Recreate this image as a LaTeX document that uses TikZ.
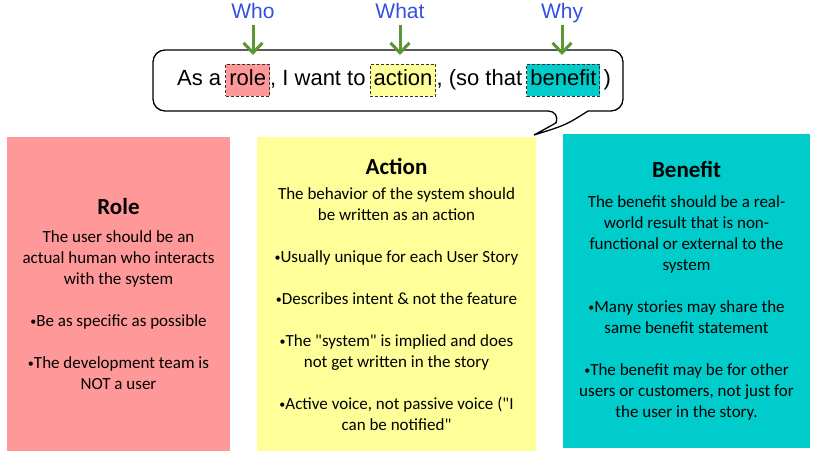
\documentclass[tikz,border=0pt]{standalone}
\usepackage{fontspec}
\usepackage{tikz}
\usetikzlibrary{positioning,arrows.meta}
\newfontfamily\cardfont{Carlito}
\newfontfamily\storyfont{Liberation Sans}
\definecolor{StoryRole}{HTML}{FF9999}
\definecolor{StoryAction}{HTML}{FFFF99}
\definecolor{StoryBenefit}{HTML}{00CCCC}
\definecolor{StoryAsk}{HTML}{3350DD}
\definecolor{StoryPointer}{HTML}{5A9634}
\definecolor{StoryDash}{HTML}{333333}
\newcommand{\pip}{\raisebox{1pt}{\fontsize{12}{12}\selectfont•}}

\begin{document}
\begin{tikzpicture}[x=1pt,y=-1pt,
    card/.style={inner sep=0,align=center,minimum height=314pt,
      font=\cardfont\fontsize{17}{21}\selectfont},
    words/.style={inner sep=0,font=\storyfont\fontsize{22}{26}\selectfont},
    hilite/.style={words,draw=StoryDash,line width=0.9pt,dash pattern=on 3pt off 2pt,
      inner xsep=3.5pt,inner ysep=5.5pt,text height=16pt,text depth=5pt},
    ask/.style={inner sep=0,text=StoryAsk,text height=15pt,text depth=4pt,
      font=\storyfont\fontsize{21}{25}\selectfont},
    pointer/.style={StoryPointer,line width=3pt,-{Straight Barb[length=10pt,width=19pt,line width=3pt]}}]
      \useasboundingbox (0,0) rectangle (815,455);
      % the three cards
      \node[card,fill=StoryRole,minimum width=223pt] (role) at (118.5,294) {%
        {\cardfont\bfseries\fontsize{23}{28}\selectfont Role}\\[7pt]
        The user should be an\\ actual human who interacts\\ with the system\\[21pt]
        \pip Be as specific as possible\\[21pt]
        \pip The development team is\\ NOT a user};
      \node[card,fill=StoryAction,minimum width=279pt] (action) at (396.5,294) {%
        {\cardfont\bfseries\fontsize{23}{28}\selectfont Action}\\[4pt]
        The behavior of the system should\\ be written as an action\\[21pt]
        \pip Usually unique for each User Story\\[21pt]
        \pip Describes intent \& not the feature\\[21pt]
        \pip The "system" is implied and does\\ not get written in the story\\[21pt]
        \pip Active voice, not passive voice ("I\\ can be notified"};
      \node[card,fill=StoryBenefit,minimum width=247pt] (benefit) at (686.5,291) {%
        {\cardfont\bfseries\fontsize{23}{28}\selectfont Benefit}\\[9pt]
        The benefit should be a real-\\ world result that is non-\\ functional or external to the\\ system\\[21pt]
        \pip Many stories may share the\\ same benefit statement\\[21pt]
        \pip The benefit may be for other\\ users or customers, not just for\\ the user in the story.};
      % speech bubble
      \draw[line width=1.3pt,rounded corners=12pt] (588,111) -- (623,111) -- (623,50)
        -- (153,50) -- (153,111) -- (560,111) [sharp corners]
        .. controls (556,123) .. (534,135) .. controls (566,125) .. (588,111);
      \coordinate (bubbletop) at (388,50);
      \node[words,anchor=base west] (asa) at (177,85.5) {As a};
      \node[hilite,fill=StoryRole,base right=4pt of asa] (hlrole) {role};
      \node[words,base right=0pt of hlrole] (iwant) {, I want to};
      \node[hilite,fill=StoryAction,base right=4pt of iwant] (hlaction) {action};
      \node[words,base right=0pt of hlaction] (sothat) {, (so that};
      \node[hilite,fill=StoryBenefit,base right=4pt of sothat] (hlbenefit) {benefit};
      \node[words,base right=3pt of hlbenefit] (close) {)};
      % questions
      \node[ask] (who) at (253,13) {Who};
      \node[ask] (what) at (400,13) {What};
      \node[ask] (why) at (562,13) {Why};
      \foreach \q in {who,what,why} {
        \draw[pointer,shorten <=2pt,shorten >=-5pt] (\q.south) -- (\q.south |- bubbletop);
      }
    \end{tikzpicture}
\end{document}
